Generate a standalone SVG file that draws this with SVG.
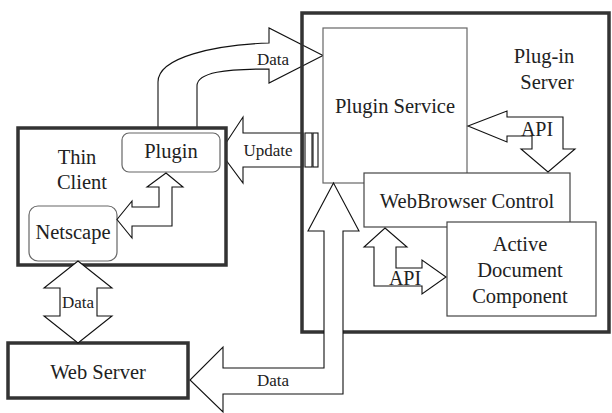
<svg xmlns="http://www.w3.org/2000/svg" width="612" height="413" viewBox="0 0 612 413">
  <style>
    .t { font-family: 'Liberation Serif', 'DejaVu Serif', serif; fill: #222; text-anchor: middle; }
    .lbl { font-size: 20.5px; }
    .small { font-size: 17px; }
    .api { font-size: 20px; }
    .thick { fill: #fff; stroke: #333; stroke-width: 3.5; }
    .thickfree { fill: none; stroke: #333; stroke-width: 3.5; }
    .box { fill: #fff; stroke: #444; stroke-width: 1.2; }
    .soft { fill: #fff; stroke: #666; stroke-width: 1.2; }
    .arrow { fill: #fff; stroke: #111; stroke-width: 1.1; stroke-linejoin: miter; }
  </style>

  <!-- Plug-in Server container fill -->
  <rect x="302" y="13" width="307" height="319" fill="#fff"/>

  <!-- Connectors (below the server frame) -->
  <g id="connectors-under">
    <!-- Thin Client -> Plugin Service : Data -->
    <path class="arrow" d="M158,128 L158,82 C158,57 215,45 269,43 L269,28 L323,55.5 L269,83 L269,69 C226,69 197,72 197,86 L197,128"/>
    <!-- Plugin Service -> Plugin : Update -->
    <path class="arrow" d="M220,152 L243,117 L243,133 L303,133 L303,167 L243,167 L243,183 Z"/>
    <rect class="arrow" x="305" y="133" width="7" height="34"/>
    <rect class="arrow" x="313" y="133" width="5" height="34"/>
  </g>

  <!-- Plug-in Server frame -->
  <g id="plugin-server">
    <rect class="thickfree" x="302" y="13" width="307" height="319"/>
    <text class="t lbl" x="544" y="63">Plug-in</text>
    <text class="t lbl" x="547" y="89">Server</text>
  </g>

  <g id="plugin-service">
    <rect class="soft" x="323" y="28" width="144" height="155"/>
    <text class="t lbl" x="395" y="113">Plugin Service</text>
  </g>

  <g id="webbrowser-control">
    <rect class="box" x="364" y="173" width="206" height="54"/>
    <text class="t lbl" x="467" y="208">WebBrowser Control</text>
  </g>

  <g id="active-document">
    <rect class="box" x="447" y="222" width="149" height="94"/>
    <text class="t lbl" x="520" y="251">Active</text>
    <text class="t lbl" x="520" y="277">Document</text>
    <text class="t lbl" x="520" y="303">Component</text>
  </g>

  <g id="thin-client">
    <rect class="thick" x="18" y="128" width="208" height="137"/>
    <text class="t lbl" x="77" y="164">Thin</text>
    <text class="t lbl" x="82" y="189">Client</text>
  </g>

  <g id="plugin">
    <rect class="soft" x="122" y="133" width="98" height="39" rx="7"/>
    <text class="t lbl" x="171" y="158">Plugin</text>
  </g>

  <g id="netscape">
    <rect class="soft" x="29" y="206" width="88" height="55" rx="9"/>
    <text class="t lbl" x="73" y="239">Netscape</text>
  </g>

  <g id="web-server">
    <rect class="thick" x="8" y="343" width="180" height="55"/>
    <text class="t lbl" x="98" y="379">Web Server</text>
  </g>

  <!-- Connectors drawn above the boxes -->
  <g id="connectors">
    <!-- Plugin <-> Netscape -->
    <path class="arrow" d="M166,173 L183,187 L172,187 L172,226 L132,226 L132,238 L117,219.5 L132,201 L132,207 L159,207 L159,187 L147,187 Z"/>
    <!-- Netscape <-> Web Server : Data -->
    <path class="arrow" d="M78,261 L112,288 L97,288 L97,316 L112,316 L78,343 L44,316 L60,316 L60,288 L44,288 Z"/>
    <text class="t small" x="78" y="308">Data</text>
    <!-- Web Server <-> Plugin Service : Data -->
    <path class="arrow" d="M333.5,183 L359,231 L343,231 L343,394 L223,394 L223,412 L190,380 L223,347 L223,368 L324,368 L324,231 L308,231 Z"/>
    <text class="t small" x="273" y="386">Data</text>
    <!-- Plugin Service <-> WebBrowser Control : API -->
    <path class="arrow" d="M468,126 L507,111 L507,117 L563,117 L563,149 L575,149 L548,172 L521,149 L532,149 L532,136 L507,136 L507,142 Z"/>
    <text class="t api" x="537" y="136">API</text>
    <!-- WebBrowser Control <-> Active Document Component : API -->
    <path class="arrow" d="M385,228 L407,247 L396,247 L396,268 L422,268 L422,260 L446,277 L422,294 L422,286 L374,286 L374,247 L364,247 Z"/>
    <text class="t api" x="405" y="285">API</text>
    <!-- labels on the under connectors -->
    <text class="t small" x="273" y="65">Data</text>
    <text class="t small" x="268" y="156">Update</text>
  </g>
</svg>
